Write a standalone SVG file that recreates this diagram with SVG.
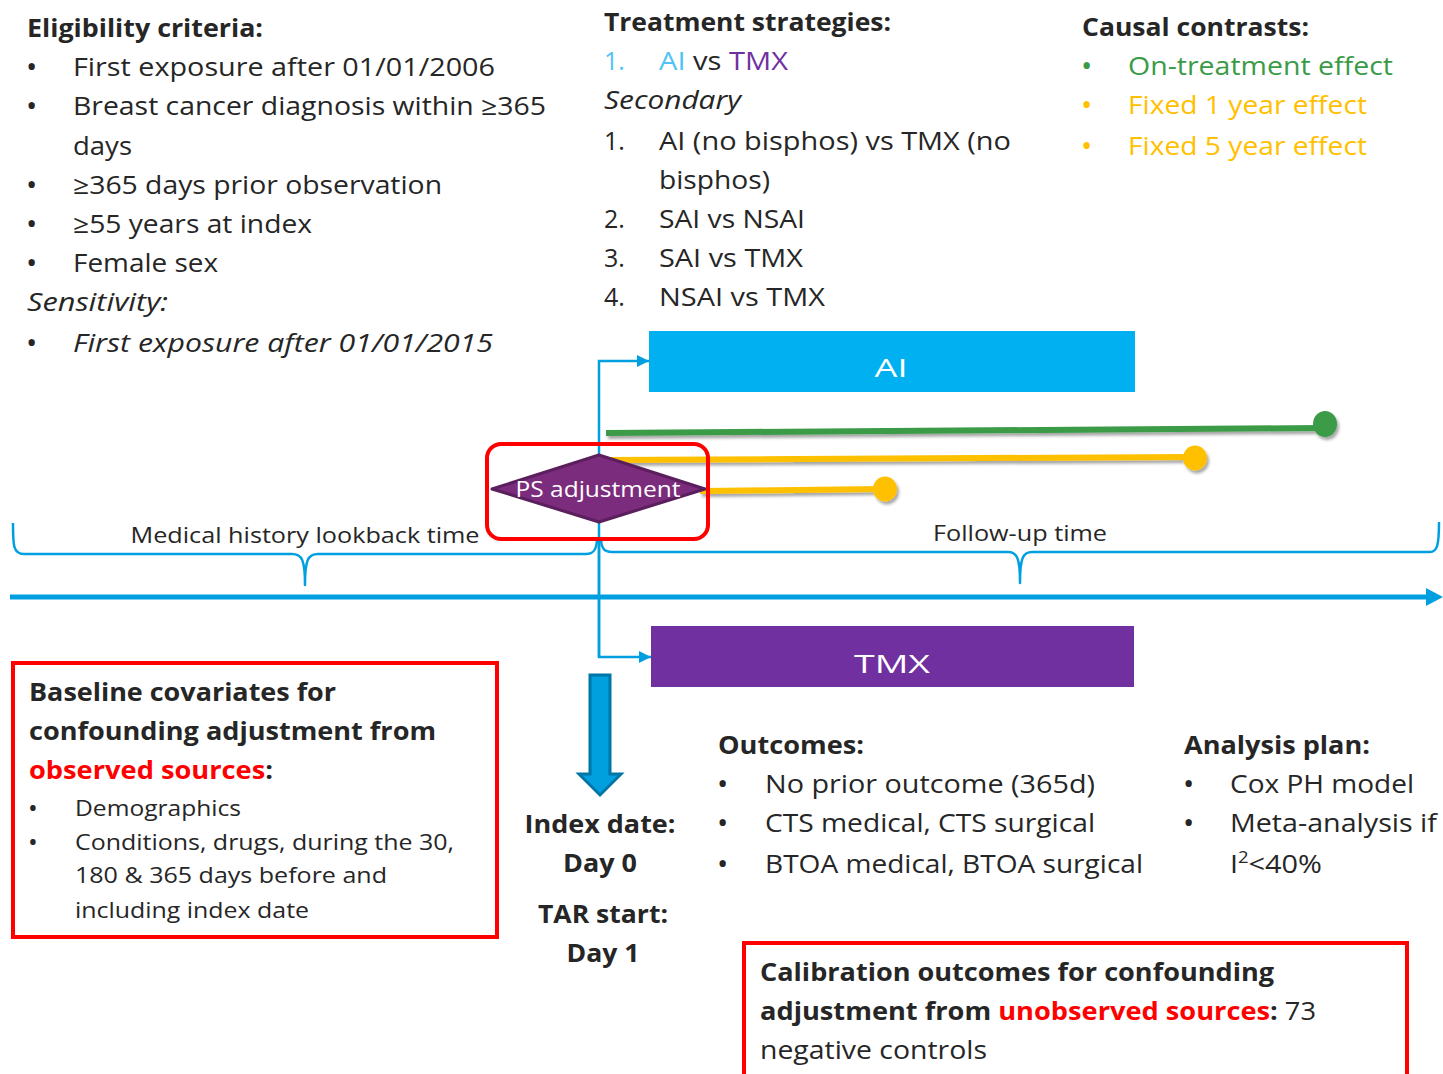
<svg xmlns="http://www.w3.org/2000/svg" width="1443" height="1074" viewBox="0 0 1443 1074">
  <style>
    .t { font-family: "Open Sans", "Noto Sans", "DejaVu Sans", sans-serif; fill: #262626; font-size: 25px; }
    .b { font-weight: 700; }
    .i { font-style: italic; }
    .sm { font-size: 21.5px; }
    .bl { font-size: 30px; }
    .bls { font-size: 26px; }
    .w { fill: #ffffff; }
    .c { text-anchor: middle; }
    .link { fill: none; stroke: #00A0E0; stroke-width: 2.5; }
    .brace { fill: none; stroke: #00A0E0; stroke-width: 2.5; stroke-linejoin: round; }
    .redbox { fill: none; stroke: #FF0000; stroke-width: 4; }
    .blue1 { fill: #4FC3F7; }
    .purp { fill: #7030A0; }
    .grn { fill: #3A9B47; }
    .yel { fill: #FFC000; }
    .red { fill: #FF0000; }
  </style>
  <defs>
    <marker id="arr" viewBox="0 0 10 10" refX="10" refY="5" markerWidth="12" markerHeight="12" markerUnits="userSpaceOnUse" orient="auto">
      <path d="M0,0 L10,5 L0,10 z" fill="#00A0E0"/>
    </marker>
    <filter id="sh" x="-5%" y="-50%" width="110%" height="200%">
      <feDropShadow dx="2" dy="3" stdDeviation="1.5" flood-color="#000" flood-opacity="0.35"/>
    </filter>
  </defs>

  <!-- eligibility criteria -->
  <g id="eligibility">
    <text class="t b" x="27" y="37" textLength="236" lengthAdjust="spacingAndGlyphs">Eligibility criteria:</text>
    <text class="t bl" x="26" y="77">•</text>
    <text class="t" x="73" y="76" textLength="422" lengthAdjust="spacingAndGlyphs">First exposure after 01/01/2006</text>
    <text class="t bl" x="26" y="116">•</text>
    <text class="t" x="73" y="115" textLength="473" lengthAdjust="spacingAndGlyphs">Breast cancer diagnosis within ≥365</text>
    <text class="t" x="73" y="155" textLength="59" lengthAdjust="spacingAndGlyphs">days</text>
    <text class="t bl" x="26" y="195">•</text>
    <text class="t" x="73" y="194" textLength="369" lengthAdjust="spacingAndGlyphs">≥365 days prior observation</text>
    <text class="t bl" x="26" y="234">•</text>
    <text class="t" x="73" y="233" textLength="239" lengthAdjust="spacingAndGlyphs">≥55 years at index</text>
    <text class="t bl" x="26" y="273">•</text>
    <text class="t" x="73" y="272" textLength="145" lengthAdjust="spacingAndGlyphs">Female sex</text>
    <text class="t i" x="27" y="311" textLength="141" lengthAdjust="spacingAndGlyphs">Sensitivity:</text>
    <text class="t bl" x="26" y="353">•</text>
    <text class="t i" x="73" y="352" textLength="420" lengthAdjust="spacingAndGlyphs">First exposure after 01/01/2015</text>
  </g>

  <!-- treatment strategies -->
  <g id="strategies">
    <text class="t b" x="604" y="31" textLength="287" lengthAdjust="spacingAndGlyphs">Treatment strategies:</text>
    <text class="t blue1" x="604" y="70">1.</text>
    <text class="t" x="659" y="70" textLength="129" lengthAdjust="spacingAndGlyphs"><tspan class="blue1">AI</tspan> vs <tspan class="purp">TMX</tspan></text>
    <text class="t i" x="604" y="109" textLength="137" lengthAdjust="spacingAndGlyphs">Secondary</text>
    <text class="t" x="604" y="150">1.</text>
    <text class="t" x="659" y="150" textLength="352" lengthAdjust="spacingAndGlyphs">AI (no bisphos) vs TMX (no</text>
    <text class="t" x="659" y="189" textLength="111" lengthAdjust="spacingAndGlyphs">bisphos)</text>
    <text class="t" x="604" y="228">2.</text>
    <text class="t" x="659" y="228" textLength="146" lengthAdjust="spacingAndGlyphs">SAI vs NSAI</text>
    <text class="t" x="604" y="267">3.</text>
    <text class="t" x="659" y="267" textLength="144" lengthAdjust="spacingAndGlyphs">SAI vs TMX</text>
    <text class="t" x="604" y="306">4.</text>
    <text class="t" x="659" y="306" textLength="166" lengthAdjust="spacingAndGlyphs">NSAI vs TMX</text>
  </g>

  <!-- causal contrasts -->
  <g id="contrasts">
    <text class="t b" x="1082" y="36" textLength="227" lengthAdjust="spacingAndGlyphs">Causal contrasts:</text>
    <text class="t bl grn" x="1081" y="76">•</text>
    <text class="t grn" x="1128" y="75" textLength="265" lengthAdjust="spacingAndGlyphs">On-treatment effect</text>
    <text class="t bl yel" x="1081" y="115">•</text>
    <text class="t yel" x="1128" y="114" textLength="239" lengthAdjust="spacingAndGlyphs">Fixed 1 year effect</text>
    <text class="t bl yel" x="1081" y="156">•</text>
    <text class="t yel" x="1128" y="155" textLength="239" lengthAdjust="spacingAndGlyphs">Fixed 5 year effect</text>
  </g>

  <!-- connectors and timeline -->
  <g id="connectors">
    <path class="link" d="M599,657 L599,361 L649,361" marker-end="url(#arr)"/>
    <path class="link" d="M599,540 L599,657 L651,657" marker-end="url(#arr)"/>
    <!-- lookback brace -->
    <path class="brace" d="M13,523 C13,545 13,554 24,554 L292,554 C302,554 305,560 305,585 C305,560 308,554 318,554 L586,554 C594,554 597,549 597,538"/>
    <!-- follow-up brace -->
    <path class="brace" d="M601,538 C601,548 604,552 612,552 L1008,552 C1017,552 1020,558 1020,583 C1020,558 1023,552 1032,552 L1430,552 C1437,552 1439,546 1439,522"/>
    <!-- time axis -->
    <line x1="10" y1="597" x2="1428" y2="597" stroke="#00A0E0" stroke-width="5"/>
    <path d="M1426,588 L1443,597 L1426,606 z" fill="#00A0E0"/>
    <!-- contrast windows -->
    <g filter="url(#sh)">
      <line x1="606" y1="433" x2="1322" y2="428" stroke="#3A9B47" stroke-width="6"/>
      <ellipse cx="1325" cy="424" rx="12" ry="13" fill="#3A9B47"/>
      <line x1="605" y1="460" x2="1192" y2="457" stroke="#FFC000" stroke-width="6"/>
      <ellipse cx="1195" cy="458" rx="12" ry="12.5" fill="#FFC000"/>
      <line x1="700" y1="491" x2="882" y2="489" stroke="#FFC000" stroke-width="6"/>
      <ellipse cx="885" cy="489" rx="12" ry="12.5" fill="#FFC000"/>
    </g>
  </g>

  <!-- timeline labels -->
  <g id="lookback">
    <text class="t sm c" x="305" y="543" textLength="349" lengthAdjust="spacingAndGlyphs">Medical history lookback time</text>
  </g>
  <g id="followup">
    <text class="t sm c" x="1020" y="541" textLength="174" lengthAdjust="spacingAndGlyphs">Follow-up time</text>
  </g>

  <!-- treatment arms -->
  <g id="ai">
    <rect x="649" y="331" width="486" height="61" fill="#00B0F0"/>
    <text class="t w c" x="891" y="377" font-size="40" textLength="33" lengthAdjust="spacingAndGlyphs">AI</text>
  </g>
  <g id="tmx">
    <rect x="651" y="626" width="483" height="61" fill="#7030A0"/>
    <text class="t w c" x="892" y="673" font-size="40" textLength="76" lengthAdjust="spacingAndGlyphs">TMX</text>
  </g>

  <!-- propensity score step -->
  <g id="ps">
    <path d="M599,455 L705,489 L599,522 L492,489 z" fill="#7B2C7D" stroke="#5A1F5C" stroke-width="3" stroke-linejoin="round"/>
    <text class="t sm w c" x="598" y="497" textLength="165" lengthAdjust="spacingAndGlyphs">PS adjustment</text>
    <rect x="487" y="444" width="221" height="95" rx="14" class="redbox" stroke-width="3"/>
  </g>

  <!-- index date -->
  <g id="index">
    <path d="M590,675 L610,675 L610,774 L621,774 L600,795 L579,774 L590,774 z" fill="#009FDD" stroke="#0076A8" stroke-width="3" stroke-linejoin="miter"/>
    <text class="t b c" x="600" y="833" textLength="151" lengthAdjust="spacingAndGlyphs">Index date:</text>
    <text class="t b c" x="600" y="872" textLength="74" lengthAdjust="spacingAndGlyphs">Day 0</text>
    <text class="t b c" x="603" y="923" textLength="130" lengthAdjust="spacingAndGlyphs">TAR start:</text>
    <text class="t b c" x="603" y="962" textLength="73" lengthAdjust="spacingAndGlyphs">Day 1</text>
  </g>

  <!-- baseline covariates -->
  <g id="covariates">
    <rect x="13" y="663" width="484" height="274" class="redbox"/>
    <text class="t b" x="29" y="701" textLength="307" lengthAdjust="spacingAndGlyphs">Baseline covariates for</text>
    <text class="t b" x="29" y="740" textLength="407" lengthAdjust="spacingAndGlyphs">confounding adjustment from</text>
    <text class="t b" x="29" y="779" textLength="244" lengthAdjust="spacingAndGlyphs"><tspan class="red">observed sources</tspan>:</text>
    <text class="t bls" x="28" y="817">•</text>
    <text class="t sm" x="75" y="816" textLength="166" lengthAdjust="spacingAndGlyphs">Demographics</text>
    <text class="t bls" x="28" y="851">•</text>
    <text class="t sm" x="75" y="850" textLength="379" lengthAdjust="spacingAndGlyphs">Conditions, drugs, during the 30,</text>
    <text class="t sm" x="75" y="883" textLength="312" lengthAdjust="spacingAndGlyphs">180 &amp; 365 days before and</text>
    <text class="t sm" x="75" y="918" textLength="234" lengthAdjust="spacingAndGlyphs">including index date</text>
  </g>

  <!-- outcomes -->
  <g id="outcomes">
    <text class="t b" x="718" y="754" textLength="146" lengthAdjust="spacingAndGlyphs">Outcomes:</text>
    <text class="t bl" x="717" y="794">•</text>
    <text class="t" x="765" y="793" textLength="330" lengthAdjust="spacingAndGlyphs">No prior outcome (365d)</text>
    <text class="t bl" x="717" y="833">•</text>
    <text class="t" x="765" y="832" textLength="330" lengthAdjust="spacingAndGlyphs">CTS medical, CTS surgical</text>
    <text class="t bl" x="717" y="874">•</text>
    <text class="t" x="765" y="873" textLength="378" lengthAdjust="spacingAndGlyphs">BTOA medical, BTOA surgical</text>
  </g>

  <!-- analysis plan -->
  <g id="analysis">
    <text class="t b" x="1184" y="754" textLength="186" lengthAdjust="spacingAndGlyphs">Analysis plan:</text>
    <text class="t bl" x="1183" y="794">•</text>
    <text class="t" x="1230" y="793" textLength="184" lengthAdjust="spacingAndGlyphs">Cox PH model</text>
    <text class="t bl" x="1183" y="833">•</text>
    <text class="t" x="1230" y="832" textLength="207" lengthAdjust="spacingAndGlyphs">Meta-analysis if</text>
    <text class="t" x="1230" y="873" textLength="92" lengthAdjust="spacingAndGlyphs">I<tspan font-size="16" dy="-10">2</tspan><tspan dy="10">&lt;40%</tspan></text>
  </g>

  <!-- calibration -->
  <g id="calibration">
    <rect x="744" y="943" width="663" height="140" class="redbox"/>
    <text class="t b" x="760" y="981" textLength="514" lengthAdjust="spacingAndGlyphs">Calibration outcomes for confounding</text>
    <text class="t" x="760" y="1020" textLength="556" lengthAdjust="spacingAndGlyphs"><tspan class="b">adjustment from </tspan><tspan class="b red">unobserved sources</tspan><tspan class="b">:</tspan> 73</text>
    <text class="t" x="760" y="1059" textLength="227" lengthAdjust="spacingAndGlyphs">negative controls</text>
  </g>
</svg>
